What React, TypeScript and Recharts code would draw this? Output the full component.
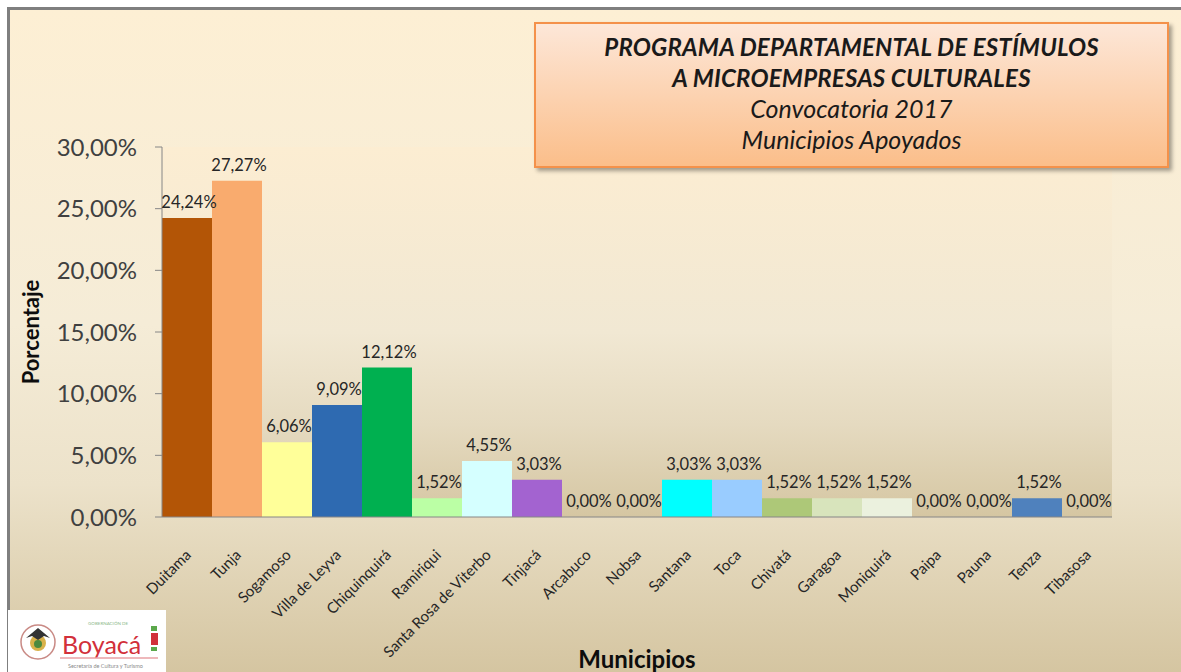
import { ComposedChart, Bar, Line, XAxis, YAxis, CartesianGrid, Cell, LabelList } from "recharts";

// Municipios apoyados, convocatoria 2017
const municipios = [
  "Duitama",
  "Tunja",
  "Sogamoso",
  "Villa de Leyva",
  "Chiquinquirá",
  "Ramiriqui",
  "Santa Rosa de Viterbo",
  "Tinjacá",
  "Arcabuco",
  "Nobsa",
  "Santana",
  "Toca",
  "Chivatá",
  "Garagoa",
  "Moniquirá",
  "Paipa",
  "Pauna",
  "Tenza",
  "Tibasosa",
];

const porcentajes = [
  24.24, 27.27, 6.06, 9.09, 12.12, 1.52, 4.55, 3.03, 0, 0, 3.03, 3.03, 1.52,
  1.52, 1.52, 0, 0, 1.52, 0,
];

const barColors = [
  "#B35506",
  "#F9AB6E",
  "#FFFF99",
  "#2E6AB1",
  "#00B050",
  "#BBFFA5",
  "#D5FFFF",
  "#A363D0",
  "#FFFFFF",
  "#FFFFFF",
  "#00FFFF",
  "#99CCFF",
  "#ADC878",
  "#D8E4BC",
  "#EBF1DE",
  "#FFFFFF",
  "#FFFFFF",
  "#4F81BD",
  "#FFFFFF",
];

const yTicks = [0, 5, 10, 15, 20, 25, 30];

const titleLines = [
  "PROGRAMA DEPARTAMENTAL DE ESTÍMULOS",
  "A MICROEMPRESAS CULTURALES",
  "Convocatoria 2017",
  "Municipios Apoyados",
];

const chartData = municipios.map((m, i) => ({ municipio: m, porcentaje: porcentajes[i] }));

const FONT = "Lato, 'Open Sans', sans-serif";

const fmt = (v: number) => v.toFixed(2).replace(".", ",") + "%";

function MunicipioTick(props: any) {
  const { x, y, payload } = props;
  const ax = x + 5;
  const ay = y + 39;
  return (
    <g transform={`translate(${ax},${ay})`}>
      <text
        textAnchor="end"
        transform="rotate(-45)"
        fontSize={15}
        fontFamily={FONT}
        fill="#262626"
      >
        {payload.value}
      </text>
    </g>
  );
}

// labels sit on the invisible line so the 0,00% values also get one
function ValueLabel(props: any) {
  const { x, y, value } = props;
  return (
    <text
      x={x + 2}
      y={y - 10}
      textAnchor="middle"
      fontSize={16.5}
      fontFamily={FONT}
      fill="#262626"
    >
      {fmt(value)}
    </text>
  );
}

function Logo() {
  return (
    <svg
      width={158}
      height={62}
      style={{ position: "absolute", left: 8, top: 610, background: "#fff" }}
    >
      <circle cx={30} cy={32} r={17} fill="#fff" stroke="#C98A85" strokeWidth={1.5} />
      <circle cx={30} cy={33} r={8} fill="#D9B24A" />
      <path d="M18 28 L30 18 L42 28 L36 26 L30 30 L24 26 Z" fill="#333" />
      <circle cx={30} cy={34} r={4} fill="#4C8A3F" />
      <text x={80} y={15} fontSize={4.5} fill="#8DB88A" fontFamily={FONT}>
        GOBERNACIÓN DE
      </text>
      <text x={54} y={44} fontSize={25} fill="#D2303A" fontFamily={FONT}>
        Boyacá
      </text>
      <rect x={143} y={16} width={6} height={5} fill="#5BA84B" />
      <rect x={143} y={23} width={7} height={12} fill="#D2303A" />
      <rect x={143} y={37} width={6} height={4} fill="#5BA84B" />
      <line x1={52} y1={48} x2={150} y2={48} stroke="#E8A1A5" strokeWidth={1.5} />
      <text x={60} y={58} fontSize={5.5} fill="#8A8A8A" fontFamily={FONT}>
        Secretaría de Cultura y Turismo
      </text>
    </svg>
  );
}

export default function App() {
  return (
    <div
      style={{
        position: "absolute",
        left: 0,
        top: 0,
        width: 1181,
        height: 672,
        overflow: "hidden",
        background: "#fff",
        fontFamily: FONT,
      }}
    >
      <svg width={0} height={0} style={{ position: "absolute" }}>
        <defs>
          <linearGradient id="plotBg" x1="0" y1="0" x2="0" y2="1">
            <stop offset="0%" stopColor="#FCEDD2" />
            <stop offset="50%" stopColor="#F1E8D3" />
            <stop offset="75%" stopColor="#E5DAC0" />
            <stop offset="100%" stopColor="#D5C6A2" />
          </linearGradient>
        </defs>
      </svg>

      <div
        style={{
          position: "absolute",
          left: 7,
          top: 7,
          width: 1200,
          height: 700,
          boxSizing: "border-box",
          borderTop: "3px solid #7F7F7F",
          borderLeft: "3px solid #7F7F7F",
          background:
            "linear-gradient(to bottom, #FDEFD4 0%, #F5ECD7 45%, #ECE2CA 68%, #D3C39E 97%)",
        }}
      />

      <div style={{ position: "absolute", left: 0, top: 0 }}>
        <ComposedChart
          width={1181}
          height={672}
          data={chartData}
          margin={{ top: 147, right: 69, bottom: 95, left: 62 }}
          barCategoryGap={0}
        >
          <CartesianGrid fill="url(#plotBg)" horizontal={false} vertical={false} />
          <XAxis
            dataKey="municipio"
            interval={0}
            height={60}
            tickLine={false}
            tickSize={0}
            tickMargin={0}
            stroke="#868686"
            tick={<MunicipioTick />}
          />
          <YAxis
            width={100}
            domain={[0, 30]}
            ticks={yTicks}
            tickFormatter={fmt}
            tickSize={7}
            tickMargin={18}
            stroke="#868686"
            tick={{ fontSize: 24, fill: "#404040", fontFamily: FONT }}
          />
          <Bar dataKey="porcentaje" isAnimationActive={false}>
            {chartData.map((d, i) => (
              <Cell key={d.municipio} fill={barColors[i]} />
            ))}
          </Bar>
          <Line
            dataKey="porcentaje"
            stroke="none"
            dot={false}
            activeDot={false}
            isAnimationActive={false}
          >
            <LabelList dataKey="porcentaje" content={<ValueLabel />} />
          </Line>
        </ComposedChart>
      </div>

      <div
        style={{
          position: "absolute",
          left: 534,
          top: 22,
          width: 635,
          height: 146,
          boxSizing: "border-box",
          border: "2px solid #F4914A",
          background: "linear-gradient(to bottom, #FDE7D8, #FBBE8A)",
          boxShadow: "3px 3px 4px rgba(0,0,0,0.35)",
          color: "#1a1a1a",
          textAlign: "center",
          fontStyle: "italic",
          paddingTop: 8,
        }}
      >
        {titleLines.map((t, i) => (
          <div
            key={t}
            style={{
              fontSize: i < 2 ? 24 : 25,
              lineHeight: "30.5px",
              fontWeight: i < 2 ? 700 : 400,
              letterSpacing: i < 2 ? 0.2 : 0,
            }}
          >
            {t}
          </div>
        ))}
      </div>

      <div
        style={{
          position: "absolute",
          left: 30,
          top: 332,
          transform: "translate(-50%, -50%) rotate(-90deg)",
          fontSize: 22,
          fontWeight: 700,
          color: "#0d0d0d",
          whiteSpace: "nowrap",
        }}
      >
        Porcentaje
      </div>

      <div
        style={{
          position: "absolute",
          left: 637,
          top: 645,
          transform: "translateX(-50%)",
          fontSize: 24,
          lineHeight: "27px",
          fontWeight: 700,
          color: "#0d0d0d",
          whiteSpace: "nowrap",
        }}
      >
        Municipios
      </div>

      <Logo />
    </div>
  );
}
